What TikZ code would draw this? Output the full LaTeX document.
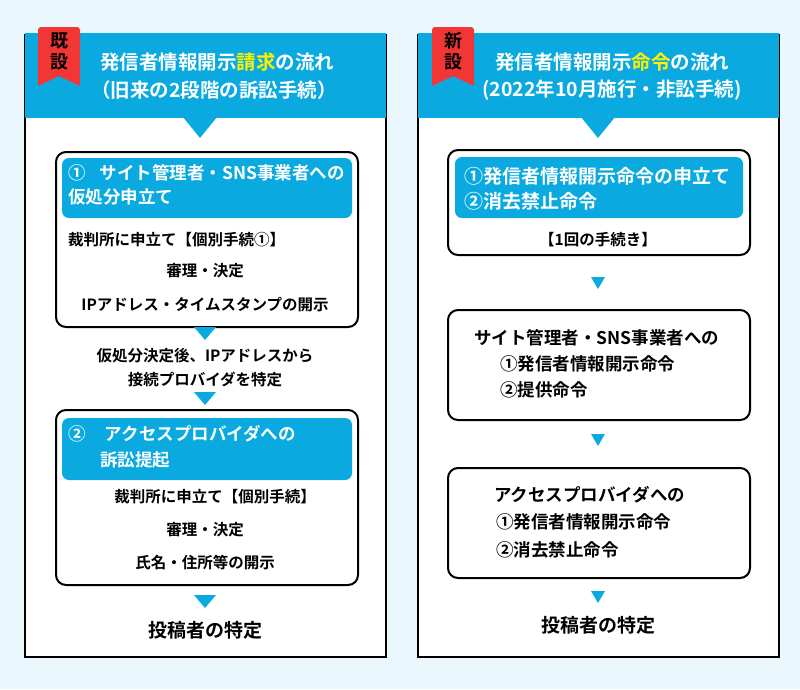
\documentclass[tikz,border=0pt]{standalone}
\usepackage{fontspec}
\setmainfont{Noto Sans CJK JP}[BoldFont={Noto Sans CJK JP Bold}]
\definecolor{bg}{HTML}{EAF7FD}
\definecolor{hb}{HTML}{0AAAE0}
\definecolor{tagred}{HTML}{F23535}
\definecolor{yel}{HTML}{FFF200}
\begin{document}
\begin{tikzpicture}[x=1pt,y=-1pt,
 panel/.style={draw=black,line width=1.5pt,fill=white},
 box/.style={draw=black,line width=2pt,rounded corners=10pt,fill=white},
 inner/.style={fill=hb,rounded corners=7pt},
 t/.style={font=\bfseries\fontsize{15.5}{17}\selectfont,inner sep=0pt},
 tb/.style={t,font=\bfseries\fontsize{17.5}{19}\selectfont,anchor=west},
 tw/.style={t,text=white,font=\bfseries\fontsize{17.5}{19}\selectfont,anchor=west},
 ht/.style={text=white,font=\bfseries\fontsize{19.5}{21}\selectfont,inner sep=0pt},
 tri/.style={fill=hb}]
\fill[bg] (0,0) rectangle (800,689);
\useasboundingbox (0,0) rectangle (800,689);
% panels
\foreach \px in {25,418}{
 \draw[panel] (\px,35) rectangle ++(361,622);
 \fill[hb] (\px,33) rectangle ++(361,85);
}
\fill[tri] (183,117) -- (217,117) -- (200,138) -- cycle;
\fill[tri] (581,117) -- (615,117) -- (598,138) -- cycle;
% tags
\fill[tagred] (38,30) [rounded corners=3pt]-- (38,27) -- (80,27) [sharp corners]-- (80,86) -- (59,76) -- (38,86) -- cycle;
\fill[tagred] (432,30) [rounded corners=3pt]-- (432,27) -- (474,27) [sharp corners]-- (474,86) -- (453,76) -- (432,86) -- cycle;
\node[t,font=\bfseries\fontsize{18}{21}\selectfont,align=center] (tagL) at (59,51) {既\\設};
\node[t,font=\bfseries\fontsize{18}{21}\selectfont,align=center] (tagR) at (453,51) {新\\設};
\node[ht] (hL1) at (217,62) {発信者情報開示\textcolor{yel}{請求}の流れ};
\node[ht] (hL2) at (214,90) {（旧来の2段階の訴訟手続）};
\node[ht] (hR1) at (612,62) {発信者情報開示\textcolor{yel}{命令}の流れ};
\node[ht] (hR2) at (612,90) {(2022年10月施行・非訟手続)};
% left box 1
\draw[box] (56,152) rectangle (358,327);
\fill[inner] (62,158) rectangle (352,218);
\node[tw] (l1a) at (68,173) {①\hspace{0.8em}サイト管理者・SNS事業者への};
\node[tw] (l1b) at (68,197) {仮処分申立て};
\node[t,anchor=west] (l1c) at (68,240) {裁判所に申立て【個別手続①】};
\node[t] (l1d) at (205,271) {審理・決定};
\node[t] (l1e) at (205,305) {IPアドレス・タイムスタンプの開示};
\fill[tri] (194,327) -- (216,327) -- (205,340) -- cycle;
\node[t] (lm1) at (205,356) {仮処分決定後、IPアドレスから};
\node[t] (lm2) at (205,380) {接続プロバイダを特定};
\fill[tri] (194,392) -- (216,392) -- (205,405) -- cycle;
% left box 2
\draw[box] (56,410) rectangle (358,585);
\fill[inner] (62,418) rectangle (352,480);
\node[tw] (l2a) at (68,434) {②\hspace{1.1em}アクセスプロバイダへの};
\node[tw] (l2b) at (100,460) {訴訟提起};
\node[t] (l2c) at (215,497) {裁判所に申立て【個別手続】};
\node[t] (l2d) at (205,530) {審理・決定};
\node[t] (l2e) at (205,563) {氏名・住所等の開示};
\fill[tri] (194,595) -- (216,595) -- (205,608) -- cycle;
\node[t,font=\bfseries\fontsize{19}{21}\selectfont] (lend) at (205,630) {投稿者の特定};
% right box 1
\draw[box] (448,150) rectangle (750,255);
\fill[inner] (455,157) rectangle (743,218);
\node[tw,font=\bfseries\fontsize{19}{21}\selectfont] (r1a) at (464,176) {①発信者情報開示命令の申立て};
\node[tw,font=\bfseries\fontsize{19}{21}\selectfont] (r1b) at (464,201) {②消去禁止命令};
\node[t] (r1c) at (598,240) {【1回の手続き】};
\fill[tri] (591,277) -- (605,277) -- (598,289) -- cycle;
% right box 2
\draw[box] (448,310) rectangle (750,420);
\node[tb] (r2a) at (474,338) {サイト管理者・SNS事業者への};
\node[tb] (r2b) at (500,364) {①発信者情報開示命令};
\node[tb] (r2c) at (500,390) {②提供命令};
\fill[tri] (591,434) -- (605,434) -- (598,446) -- cycle;
% right box 3
\draw[box] (448,468) rectangle (750,578);
\node[tb] (r3a) at (494,495) {アクセスプロバイダへの};
\node[tb] (r3b) at (496,522) {①発信者情報開示命令};
\node[tb] (r3c) at (496,550) {②消去禁止命令};
\fill[tri] (591,591) -- (605,591) -- (598,603) -- cycle;
\node[t,font=\bfseries\fontsize{19}{21}\selectfont] (rend) at (598,625) {投稿者の特定};
\end{tikzpicture}
\end{document}
